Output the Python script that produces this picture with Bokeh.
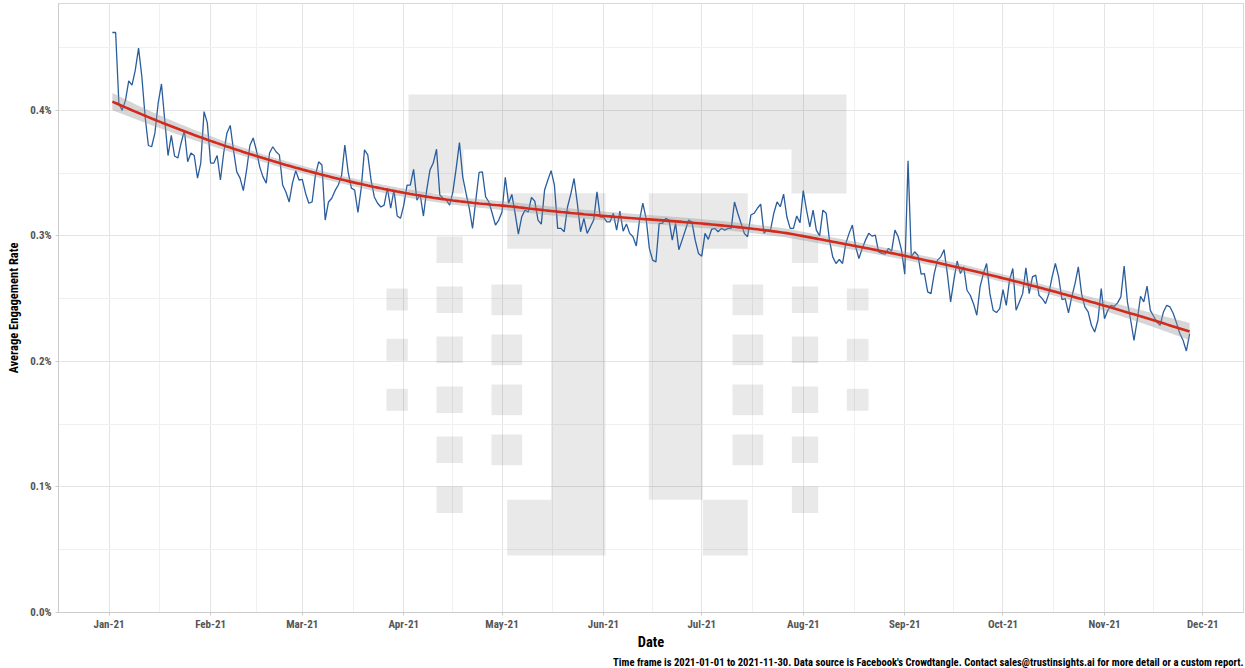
import numpy as np
import pandas as pd
from bokeh.plotting import figure
from bokeh.models import Range1d, FixedTicker, DatetimeTickFormatter, NumeralTickFormatter, Title
from bokeh.embed import file_html
from bokeh.resources import INLINE

# ---------------- data ----------------
start_date = "2021-01-02"
engagement_pct = [
    0.462, 0.462, 0.405, 0.400, 0.408, 0.4235, 0.420, 0.432, 0.4496, 0.427,
    0.395, 0.372, 0.371, 0.382, 0.406, 0.421, 0.392, 0.364, 0.380, 0.3636,
    0.362, 0.374, 0.384, 0.359, 0.366, 0.364, 0.346, 0.358, 0.399, 0.390,
    0.358, 0.358, 0.364, 0.3445, 0.366, 0.382, 0.388, 0.368, 0.351, 0.346,
    0.336, 0.3525, 0.372, 0.378, 0.368, 0.355, 0.347, 0.342, 0.366, 0.371,
    0.367, 0.3645, 0.3405, 0.335, 0.327, 0.342, 0.352, 0.3445, 0.345, 0.334,
    0.326, 0.327, 0.348, 0.359, 0.3565, 0.3126, 0.327, 0.330, 0.336, 0.3405,
    0.348, 0.3724, 0.351, 0.338, 0.3365, 0.3187, 0.338, 0.3685, 0.3645, 0.3445,
    0.331, 0.326, 0.323, 0.3245, 0.338, 0.322, 0.3365, 0.3158, 0.314, 0.3245,
    0.3405, 0.3405, 0.353, 0.3285, 0.333, 0.3158, 0.3365, 0.3525, 0.358, 0.369,
    0.3325, 0.330, 0.3285, 0.3245, 0.335, 0.3538, 0.3743, 0.347, 0.334, 0.322,
    0.306, 0.3285, 0.3505, 0.351, 0.331, 0.327, 0.318, 0.3086, 0.3126, 0.319,
    0.3466, 0.326, 0.333, 0.318, 0.3014, 0.315, 0.3205, 0.319, 0.3306, 0.3277,
    0.3126, 0.3094, 0.3365, 0.3445, 0.352, 0.3405, 0.306, 0.306, 0.3033, 0.323,
    0.3333, 0.3457, 0.326, 0.3033, 0.314, 0.302, 0.3072, 0.3126, 0.335, 0.315,
    0.315, 0.3112, 0.3112, 0.318, 0.3046, 0.3198, 0.3038, 0.3094, 0.302, 0.2993,
    0.292, 0.3126, 0.326, 0.314, 0.290, 0.2807, 0.2793, 0.310, 0.310, 0.314,
    0.3126, 0.2966, 0.310, 0.289, 0.2966, 0.3046, 0.3126, 0.311, 0.2966, 0.286,
    0.2838, 0.302, 0.2972, 0.3051, 0.306, 0.3033, 0.306, 0.3046, 0.306, 0.306,
    0.327, 0.318, 0.310, 0.302, 0.2993, 0.3166, 0.318, 0.322, 0.3253, 0.302,
    0.3046, 0.3046, 0.318, 0.327, 0.3232, 0.3333, 0.315, 0.306, 0.306, 0.3158,
    0.3104, 0.336, 0.3205, 0.3072, 0.3205, 0.3046, 0.300, 0.3205, 0.318, 0.2966,
    0.2833, 0.278, 0.2812, 0.278, 0.294, 0.302, 0.3086, 0.2913, 0.282, 0.290,
    0.2966, 0.302, 0.2998, 0.3006, 0.2873, 0.286, 0.2854, 0.290, 0.288, 0.3046,
    0.2993, 0.2886, 0.2695, 0.3599, 0.2833, 0.2873, 0.2846, 0.2695, 0.270, 0.2554,
    0.254, 0.270, 0.2807, 0.2833, 0.289, 0.270, 0.2474, 0.2647, 0.280, 0.270,
    0.2753, 0.2567, 0.2527, 0.246, 0.2368, 0.2594, 0.270, 0.278, 0.254, 0.2407,
    0.2389, 0.2421, 0.2572, 0.2447, 0.2647, 0.274, 0.2407, 0.2474, 0.254, 0.2745,
    0.254, 0.2673, 0.2687, 0.2527, 0.250, 0.246, 0.254, 0.2673, 0.278, 0.2673,
    0.2493, 0.250, 0.2386, 0.2514, 0.262, 0.2753, 0.254, 0.2434, 0.2394, 0.2288,
    0.2234, 0.2328, 0.258, 0.234, 0.2407, 0.2447, 0.2439, 0.2466, 0.2514, 0.2759,
    0.2474, 0.2328, 0.2168, 0.2328, 0.2519, 0.2474, 0.260, 0.2407, 0.236, 0.2314,
    0.2288, 0.2394, 0.2447, 0.2434, 0.2381, 0.2306, 0.2222, 0.2168, 0.2083, 0.2222,
]
month_ticks = ["2021-01-01", "2021-02-01", "2021-03-01", "2021-04-01", "2021-05-01",
               "2021-06-01", "2021-07-01", "2021-08-01", "2021-09-01", "2021-10-01",
               "2021-11-01", "2021-12-01"]
y_ticks_pct = [0.0, 0.1, 0.2, 0.3, 0.4]
x_title = "Date"
y_title = "Average Engagement Rate"
caption = ("Time frame is 2021-01-01 to 2021-11-30. Data source is Facebook's Crowdtangle. "
           "Contact sales@trustinsights.ai for more detail or a custom report.")

# ---------------- prep ----------------
dates = pd.date_range(start_date, periods=len(engagement_pct), freq="D")
rate = np.array(engagement_pct) / 100.0
days = np.arange(len(rate), dtype=float)


def loess(x, y, span=0.75):
    n = len(x)
    q = int(np.floor(n * span))
    L = np.zeros((n, n))
    for i, x0 in enumerate(x):
        d = np.abs(x - x0)
        h = np.sort(d)[q - 1]
        u = d / h
        w = np.where(u < 1, (1 - u ** 3) ** 3, 0.0)
        X = np.column_stack([np.ones(n), x - x0, (x - x0) ** 2])
        XtW = X.T * w
        A = XtW @ X
        L[i] = np.linalg.solve(A, XtW)[0]
    fit = L @ y
    IL = np.eye(n) - L
    delta1 = np.trace(IL.T @ IL)
    sigma = np.sqrt(np.sum((y - fit) ** 2) / delta1)
    se = sigma * np.sqrt(np.sum(L ** 2, axis=1))
    return fit, se


fit, se = loess(days, rate)
lo = fit - 1.97 * se
hi = fit + 1.97 * se

to_ms = lambda t: pd.Timestamp(t).value / 1e6
t0, t1 = to_ms(dates[0]), to_ms(dates[-1])
pad = 0.05 * (t1 - t0)
x_start, x_end = t0 - pad, t1 + pad
y_start, y_end = 0.0, rate.max() * 1.05

major_x = [to_ms(m) for m in month_ticks]
minor_x = [(a + b) / 2 for a, b in zip(major_x[:-1], major_x[1:])]
major_y = [v / 100 for v in y_ticks_pct]
minor_y = [v + 0.0005 for v in major_y]

FONT = ("'Noto Sans ExtraCondensed', 'Noto Sans Condensed', 'Roboto Condensed', "
        "'Liberation Sans Narrow', 'DejaVu Sans Condensed', 'Roboto'")

p = figure(width=1245, height=668, x_axis_type="datetime", output_backend="svg",
           toolbar_location=None, x_range=Range1d(x_start, x_end),
           y_range=Range1d(y_start, y_end),
           min_border_left=58, min_border_right=2, min_border_top=3, min_border_bottom=56)
p.background_fill_color = "white"
p.border_fill_color = "white"
p.outline_line_color = "#d9d9d9"
p.outline_line_width = 1

# watermark logo (decorative), defined as boxes in the reference frame pixels
FRAME = (58, 3, 1243, 612)  # left, top, right, bottom
logo_boxes = [
    (408, 94, 846, 149), (408, 149, 463, 193), (791, 149, 846, 193),
    (506.7, 192.7, 605, 248.3), (550.7, 248.3, 605, 499.3), (506.7, 499.3, 605, 555),
    (648.3, 192.7, 747.3, 248.3), (648.3, 248.3, 702.3, 499.3), (702.3, 499.3, 747.3, 555),
]
for y0 in (288, 338.3, 388.3):
    logo_boxes.append((386, y0, 407.3, y0 + 22))
    logo_boxes.append((846.3, y0, 868, y0 + 22))
for y0 in (236, 286, 336, 386, 436, 486):
    logo_boxes.append((436, y0, 462.3, y0 + 26.5))
    logo_boxes.append((791.3, y0, 817.7, y0 + 26.5))
for y0 in (284, 334, 384, 434):
    logo_boxes.append((491, y0, 521.7, y0 + 30.7))
    logo_boxes.append((732, y0, 762.7, y0 + 30.7))

fl, ft, fr, fb = FRAME
px2x = lambda px: x_start + (px - fl) / (fr - fl) * (x_end - x_start)
py2y = lambda py: y_end - (py - ft) / (fb - ft) * (y_end - y_start)
p.quad(left=[px2x(b[0]) for b in logo_boxes], right=[px2x(b[2]) for b in logo_boxes],
       top=[py2y(b[1]) for b in logo_boxes], bottom=[py2y(b[3]) for b in logo_boxes],
       fill_color="#000000", fill_alpha=0.085, line_color=None)

# series
p.line(dates, rate, line_color="#2a5d9c", line_width=1.3)
p.varea(x=dates, y1=lo, y2=hi, fill_color="#999999", fill_alpha=0.4)
p.line(dates, fit, line_color="#d42a1e", line_width=2.6)

# axes & grid
p.xaxis.ticker = FixedTicker(ticks=major_x, minor_ticks=minor_x)
p.yaxis.ticker = FixedTicker(ticks=major_y, minor_ticks=minor_y)
fmt = "%b-%y"
p.xaxis.formatter = DatetimeTickFormatter(days=fmt, months=fmt, years=fmt)
p.yaxis.formatter = NumeralTickFormatter(format="0.0%")

for g in (p.xgrid, p.ygrid):
    g.grid_line_color = "#e4e4e4"
    g.grid_line_width = 1
    g.minor_grid_line_color = "#f0f0f0"
    g.minor_grid_line_width = 1

for ax in (p.xaxis, p.yaxis):
    ax.axis_line_color = "#cccccc"
    ax.major_tick_line_color = "#cccccc"
    ax.major_tick_out = 3
    ax.major_tick_in = 0
    ax.minor_tick_line_color = None
    ax.major_label_text_font = FONT
    ax.major_label_text_font_size = "11px"
    ax.major_label_text_color = "#555555"
    ax.major_label_text_font_style = "bold"
    ax.axis_label_text_font = FONT
    ax.axis_label_text_font_style = "bold"
    ax.axis_label_text_color = "#000000"

p.xaxis.axis_label = x_title
p.yaxis.axis_label = y_title
p.xaxis.axis_label_text_font_size = "14.5px"
p.yaxis.axis_label_text_font_size = "12.5px"
p.xaxis.major_label_standoff = 1
p.yaxis.major_label_standoff = 3
p.xaxis.axis_label_standoff = 0
p.yaxis.axis_label_standoff = 6

cap = Title(text=caption, align="right", text_font=FONT, text_font_size="10.6px",
            text_font_style="bold", text_color="#000000", standoff=0, offset=0)
p.add_layout(cap, "below")

open("out.html", "w").write(file_html(p, INLINE))
